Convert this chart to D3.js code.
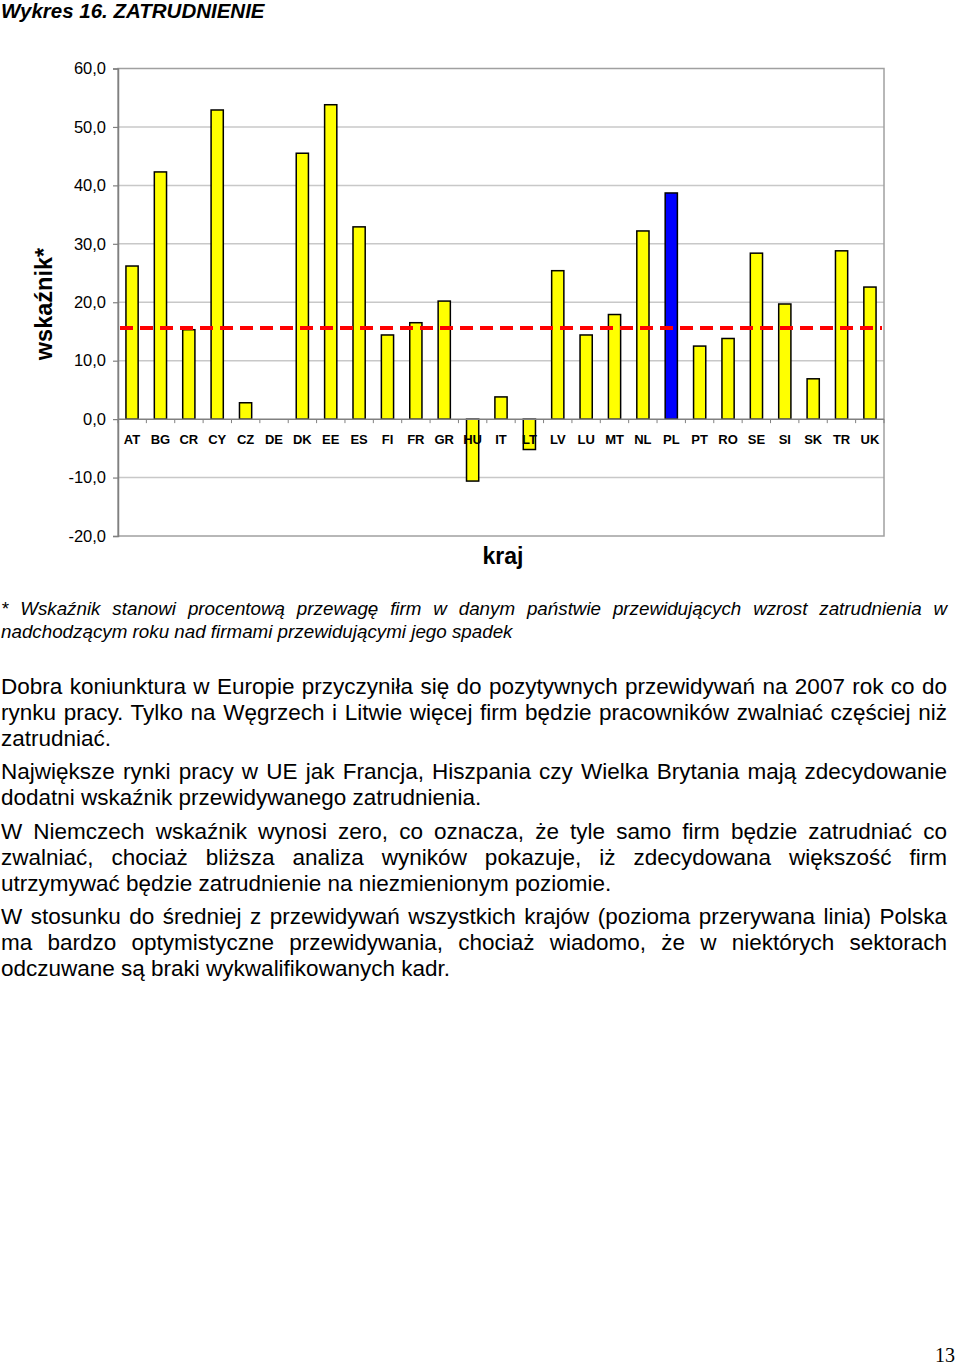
<!DOCTYPE html>
<html><head><meta charset="utf-8">
<script src="https://cdn.jsdelivr.net/npm/d3@7"></script>
<style>html,body{margin:0;padding:0;background:#fff;} svg{display:block;}</style>
</head><body>
<svg id="c" width="960" height="1368"></svg>
<script>
const categories = ["AT","BG","CR","CY","CZ","DE","DK","EE","ES","FI","FR","GR","HU","IT","LT","LV","LU","MT","NL","PL","PT","RO","SE","SI","SK","TR","UK"];
const values = [26.2,42.3,15.3,52.9,2.8,0,45.5,53.8,32.9,14.4,16.5,20.2,-10.6,3.8,-5.2,25.4,14.4,17.9,32.2,38.7,12.5,13.8,28.4,19.7,6.9,28.8,22.6];
const highlighted = ["PL"];
const averageValue = 15.6;
const yTicks = [-20,-10,0,10,20,30,40,50,60];
const titleText = "Wykres 16. ZATRUDNIENIE";
const yTitle = "wskaźnik*";
const xTitle = "kraj";
const footnoteLines = [
 "* Wskaźnik stanowi procentową przewagę firm w danym państwie przewidujących wzrost zatrudnienia w",
 "nadchodzącym roku nad firmami przewidującymi jego spadek"
];
const paragraphs = [
 ["Dobra koniunktura w Europie przyczyniła się do pozytywnych przewidywań na 2007 rok co do",
  "rynku pracy. Tylko na Węgrzech i Litwie więcej firm będzie pracowników zwalniać częściej niż",
  "zatrudniać."],
 ["Największe rynki pracy w UE jak Francja, Hiszpania czy Wielka Brytania mają zdecydowanie",
  "dodatni wskaźnik przewidywanego zatrudnienia."],
 ["W Niemczech wskaźnik wynosi zero, co oznacza, że tyle samo firm będzie zatrudniać co",
  "zwalniać, chociaż bliższa analiza wyników pokazuje, iż zdecydowana większość firm",
  "utrzymywać będzie zatrudnienie na niezmienionym poziomie."],
 ["W stosunku do średniej z przewidywań wszystkich krajów (pozioma przerywana linia) Polska",
  "ma bardzo optymistyczne przewidywania, chociaż wiadomo, że w niektórych sektorach",
  "odczuwane są braki wykwalifikowanych kadr."]
];
const pageNumber = "13";

const svg = d3.select("#c");
svg.append("rect").attr("width",960).attr("height",1368).attr("fill","#fff");
const font = "Arial, 'Liberation Sans', sans-serif";

// title
svg.append("text").attr("x",1).attr("y",18).attr("font-family",font).attr("font-size",20.5)
  .attr("font-weight","bold").attr("font-style","italic").text(titleText);

const pLeft=118, pRight=884, pTop=68.5, pBottom=536;
const y = d3.scaleLinear().domain([-20,60]).range([pBottom,pTop]);
const x = d3.scaleBand().domain(categories).range([pLeft,pRight]).paddingInner(0.57).paddingOuter(0.28);

const g = svg.append("g");
// gridlines
g.selectAll("line.grid").data(yTicks.filter(d=>d!==0 && d!==-20 && d!==60)).join("line")
  .attr("x1",pLeft).attr("x2",pRight).attr("y1",d=>y(d)).attr("y2",d=>y(d))
  .attr("stroke","#c8c8c8").attr("stroke-width",1.5);
// plot border
g.append("rect").attr("x",pLeft).attr("y",pTop).attr("width",pRight-pLeft).attr("height",pBottom-pTop)
  .attr("fill","none").attr("stroke","#a0a0a0").attr("stroke-width",1.5);

// y axis
const yAxis = d3.axisLeft(y).tickValues(yTicks).tickSize(5).tickPadding(7)
  .tickFormat(d=>d3.format(".1f")(d).replace(".",",").replace("−","-"));
const ya = svg.append("g").attr("transform",`translate(${pLeft},0)`).call(yAxis);
ya.select(".domain").attr("stroke","#808080").attr("stroke-width",1.5);
ya.selectAll(".tick line").attr("stroke","#808080").attr("stroke-width",1.2);
ya.selectAll(".tick text").attr("font-family",font).attr("font-size",16.5).attr("fill","#000");

// bars
g.selectAll("rect.bar").data(categories.map((c,i)=>({c,v:values[i]}))).join("rect")
  .attr("x",d=>x(d.c)).attr("width",x.bandwidth())
  .attr("y",d=>y(Math.max(0,d.v))).attr("height",d=>Math.abs(y(d.v)-y(0)))
  .attr("fill",d=>highlighted.includes(d.c)?"#0000ff":"#ffff00")
  .attr("stroke","#000").attr("stroke-width",1.5);

// x axis at zero
const xa = svg.append("g").attr("transform",`translate(0,${y(0)})`);
xa.append("line").attr("x1",pLeft).attr("x2",pRight).attr("stroke","#808080").attr("stroke-width",1.5);
const bounds = d3.range(categories.length+1).map(i=>pLeft+i*(pRight-pLeft)/categories.length);
xa.selectAll("line.t").data(bounds).join("line").attr("x1",d=>d).attr("x2",d=>d).attr("y1",0).attr("y2",4)
  .attr("stroke","#808080").attr("stroke-width",1);
xa.selectAll("text").data(categories).join("text")
  .attr("x",d=>x(d)+x.bandwidth()/2).attr("y",25).attr("text-anchor","middle")
  .attr("font-family",font).attr("font-size",13).attr("font-weight","bold").text(d=>d);

// average dashed line
svg.append("line").attr("x1",pLeft+2).attr("x2",pRight-2).attr("y1",y(averageValue)).attr("y2",y(averageValue))
  .attr("stroke","#ff0000").attr("stroke-width",4).attr("stroke-dasharray","13,7");

// axis titles
svg.append("text").attr("transform",`translate(52,${304}) rotate(-90)`).attr("text-anchor","middle")
  .attr("font-family",font).attr("font-size",23.5).attr("font-weight","bold").text(yTitle);
svg.append("text").attr("x",503).attr("y",564).attr("text-anchor","middle")
  .attr("font-family",font).attr("font-size",23).attr("font-weight","bold").text(xTitle);

function justify(sel, width){
  const n = (sel.text().match(/ /g)||[]).length;
  const len = sel.node().getComputedTextLength();
  if(n>0) sel.attr("word-spacing",(width-len)/n);
}
const textW = 946;
// footnote
footnoteLines.forEach((t,i)=>{
  const s = svg.append("text").attr("x",1).attr("y",615+i*23).attr("font-family",font)
    .attr("font-size",18.8).attr("font-style","italic").text(t);
  if(i===0) justify(s,textW);
});
// paragraphs
const paraY = [694,779,839,924];
paragraphs.forEach((p,pi)=>{
  p.forEach((t,li)=>{
    const s = svg.append("text").attr("x",1).attr("y",paraY[pi]+li*26).attr("font-family",font)
      .attr("font-size",22.5).text(t);
    if(li<p.length-1) justify(s,textW);
  });
});
svg.append("text").attr("x",955).attr("y",1362).attr("text-anchor","end")
  .attr("font-family","'Liberation Serif','DejaVu Serif',serif").attr("font-size",20).text(pageNumber);
</script>
</body></html>
